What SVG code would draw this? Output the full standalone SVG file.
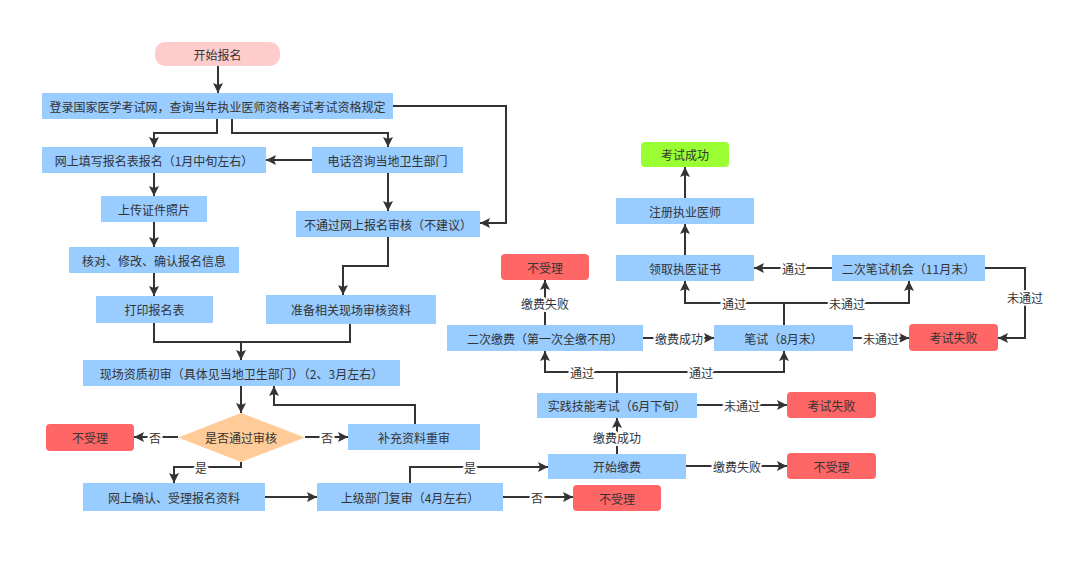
<svg xmlns="http://www.w3.org/2000/svg" width="1080" height="566" viewBox="0 0 1080 566">
<style>
text{font-family:"Noto Sans CJK SC","Liberation Sans",sans-serif;font-size:12px;fill:#333;text-anchor:middle;dominant-baseline:central}
.b{fill:#99CCFF}
.r{fill:#FF6666}
.p{fill:#FFCCCC}
.g{fill:#99FF33}
.d{fill:#FFCC99}
.c path{fill:none;stroke:#333;stroke-width:2;marker-end:url(#a)}
.c path.n{marker-end:none}
.l{paint-order:stroke;stroke:#fff;stroke-width:4px;stroke-linejoin:round}
</style>
<defs>
<marker id="a" viewBox="0 0 10 10" refX="10" refY="5" markerWidth="10" markerHeight="10" markerUnits="userSpaceOnUse" orient="auto"><path d="M0,0 L10,5 L0,10 L2,5 z" fill="#333"/></marker>
</defs>
<rect width="1080" height="566" fill="#fff"/>
<g class="c" id="connectors">
<path d="M218,66 V93"/>
<path d="M217,119 V133 H154 V147"/>
<path d="M232,119 V133 H388 V147"/>
<path d="M393,106 H506 V223 H480"/>
<path d="M312,160 H266"/>
<path d="M388,173 V211"/>
<path d="M154,173 V196"/>
<path d="M154,222 V247"/>
<path d="M154,273 V296"/>
<path d="M388,237 V266 H343 V295"/>
<path class="n" d="M154,323 V342 H350 V324"/>
<path d="M241,342 V360"/>
<path d="M241,386 V413"/>
<path d="M178,437 H134"/>
<path d="M305,437 H348"/>
<path d="M415,424 V405 H274 V386"/>
<path d="M241,462 V467 H174 V483"/>
<path d="M265,497 H317"/>
<path d="M503,497 H573"/>
<path d="M410,483 V467 H548"/>
<path d="M686,466 H787"/>
<path d="M617,454 V418"/>
<path d="M697,405 H787"/>
<path class="n" d="M617,393 V372"/>
<path d="M617,372 H545 V351"/>
<path d="M617,372 H784 V351"/>
<path d="M545,325 V280"/>
<path d="M643,338 H714"/>
<path d="M853,338 H909"/>
<path class="n" d="M784,325 V303"/>
<path d="M784,303 H685 V281"/>
<path d="M784,303 H909 V281"/>
<path d="M832,268 H754"/>
<path d="M985,268 H1025 V338 H998"/>
<path d="M685,255 V224"/>
<path d="M685,198 V167"/>
<text class="l" x="155" y="437">否</text>
<text class="l" x="327" y="437">否</text>
<text class="l" x="201" y="467">是</text>
<text class="l" x="537" y="497">否</text>
<text class="l" x="470" y="467">是</text>
<text class="l" x="737" y="466">缴费失败</text>
<text class="l" x="617" y="437">缴费成功</text>
<text class="l" x="742" y="405">未通过</text>
<text class="l" x="582" y="372">通过</text>
<text class="l" x="701" y="372">通过</text>
<text class="l" x="545" y="303">缴费失败</text>
<text class="l" x="679" y="338">缴费成功</text>
<text class="l" x="881" y="338">未通过</text>
<text class="l" x="734" y="303">通过</text>
<text class="l" x="847" y="303">未通过</text>
<text class="l" x="794" y="268">通过</text>
<text class="l" x="1025" y="297">未通过</text>
</g>
<g id="n_start"><rect class="p" x="155" y="42" width="125" height="24" rx="10"/><text x="217.5" y="54">开始报名</text></g>
<g id="n_login"><rect class="b" x="42" y="93" width="351" height="26"/><text x="217.5" y="106">登录国家医学考试网，查询当年执业医师资格考试考试资格规定</text></g>
<g id="n_online"><rect class="b" x="42" y="147" width="224" height="26"/><text x="154" y="160">网上填写报名表报名（1月中旬左右）</text></g>
<g id="n_phone"><rect class="b" x="312" y="147" width="151" height="26"/><text x="387.5" y="160">电话咨询当地卫生部门</text></g>
<g id="n_upload"><rect class="b" x="101" y="196" width="106" height="26"/><text x="154" y="209">上传证件照片</text></g>
<g id="n_noonline"><rect class="b" x="296" y="211" width="184" height="26"/><text x="388" y="224">不通过网上报名审核（不建议）</text></g>
<g id="n_check"><rect class="b" x="69" y="247" width="170" height="26"/><text x="154" y="260">核对、修改、确认报名信息</text></g>
<g id="n_print"><rect class="b" x="96" y="296" width="117" height="27"/><text x="154.5" y="309.5">打印报名表</text></g>
<g id="n_prepare"><rect class="b" x="266" y="295" width="170" height="29"/><text x="351" y="309.5">准备相关现场审核资料</text></g>
<g id="n_onsite"><rect class="b" x="83" y="360" width="317" height="26"/><text x="241.5" y="373">现场资质初审（具体见当地卫生部门）（2、3月左右）</text></g>
<g id="n_pass"><path class="d" d="M178,437.5 L241,413 L305,437.5 L241,462 z"/><text x="241" y="437">是否通过审核</text></g>
<g id="n_rej1"><rect class="r" x="46" y="424" width="88" height="27" rx="4"/><text x="90" y="437.5">不受理</text></g>
<g id="n_supp"><rect class="b" x="348" y="424" width="132" height="26"/><text x="414" y="437">补充资料重审</text></g>
<g id="n_confirm"><rect class="b" x="83" y="483" width="182" height="28"/><text x="174" y="497">网上确认、受理报名资料</text></g>
<g id="n_upper"><rect class="b" x="317" y="483" width="186" height="28"/><text x="410" y="497">上级部门复审（4月左右）</text></g>
<g id="n_rej2"><rect class="r" x="573" y="485" width="88" height="26" rx="4"/><text x="617" y="498">不受理</text></g>
<g id="n_pay"><rect class="b" x="548" y="454" width="138" height="25"/><text x="617" y="466.5">开始缴费</text></g>
<g id="n_rej3"><rect class="r" x="787" y="453" width="89" height="26" rx="4"/><text x="831.5" y="466">不受理</text></g>
<g id="n_practice"><rect class="b" x="537" y="393" width="160" height="25"/><text x="617" y="405.5">实践技能考试（6月下旬）</text></g>
<g id="n_fail1"><rect class="r" x="787" y="392" width="89" height="26" rx="4"/><text x="831.5" y="405">考试失败</text></g>
<g id="n_pay2"><rect class="b" x="447" y="325" width="196" height="26"/><text x="545" y="338">二次缴费（第一次全缴不用）</text></g>
<g id="n_rej4"><rect class="r" x="501" y="254" width="88" height="26" rx="4"/><text x="545" y="267">不受理</text></g>
<g id="n_written"><rect class="b" x="714" y="325" width="139" height="26"/><text x="783.5" y="338">笔试（8月末）</text></g>
<g id="n_fail2"><rect class="r" x="909" y="324" width="89" height="27" rx="4"/><text x="953.5" y="337.5">考试失败</text></g>
<g id="n_second"><rect class="b" x="832" y="255" width="153" height="26"/><text x="908.5" y="268">二次笔试机会（11月末）</text></g>
<g id="n_cert"><rect class="b" x="616" y="255" width="138" height="26"/><text x="685" y="268">领取执医证书</text></g>
<g id="n_register"><rect class="b" x="616" y="198" width="138" height="26"/><text x="685" y="211">注册执业医师</text></g>
<g id="n_success"><rect class="g" x="641" y="142" width="88" height="25" rx="4"/><text x="685" y="154.5">考试成功</text></g>
</svg>
